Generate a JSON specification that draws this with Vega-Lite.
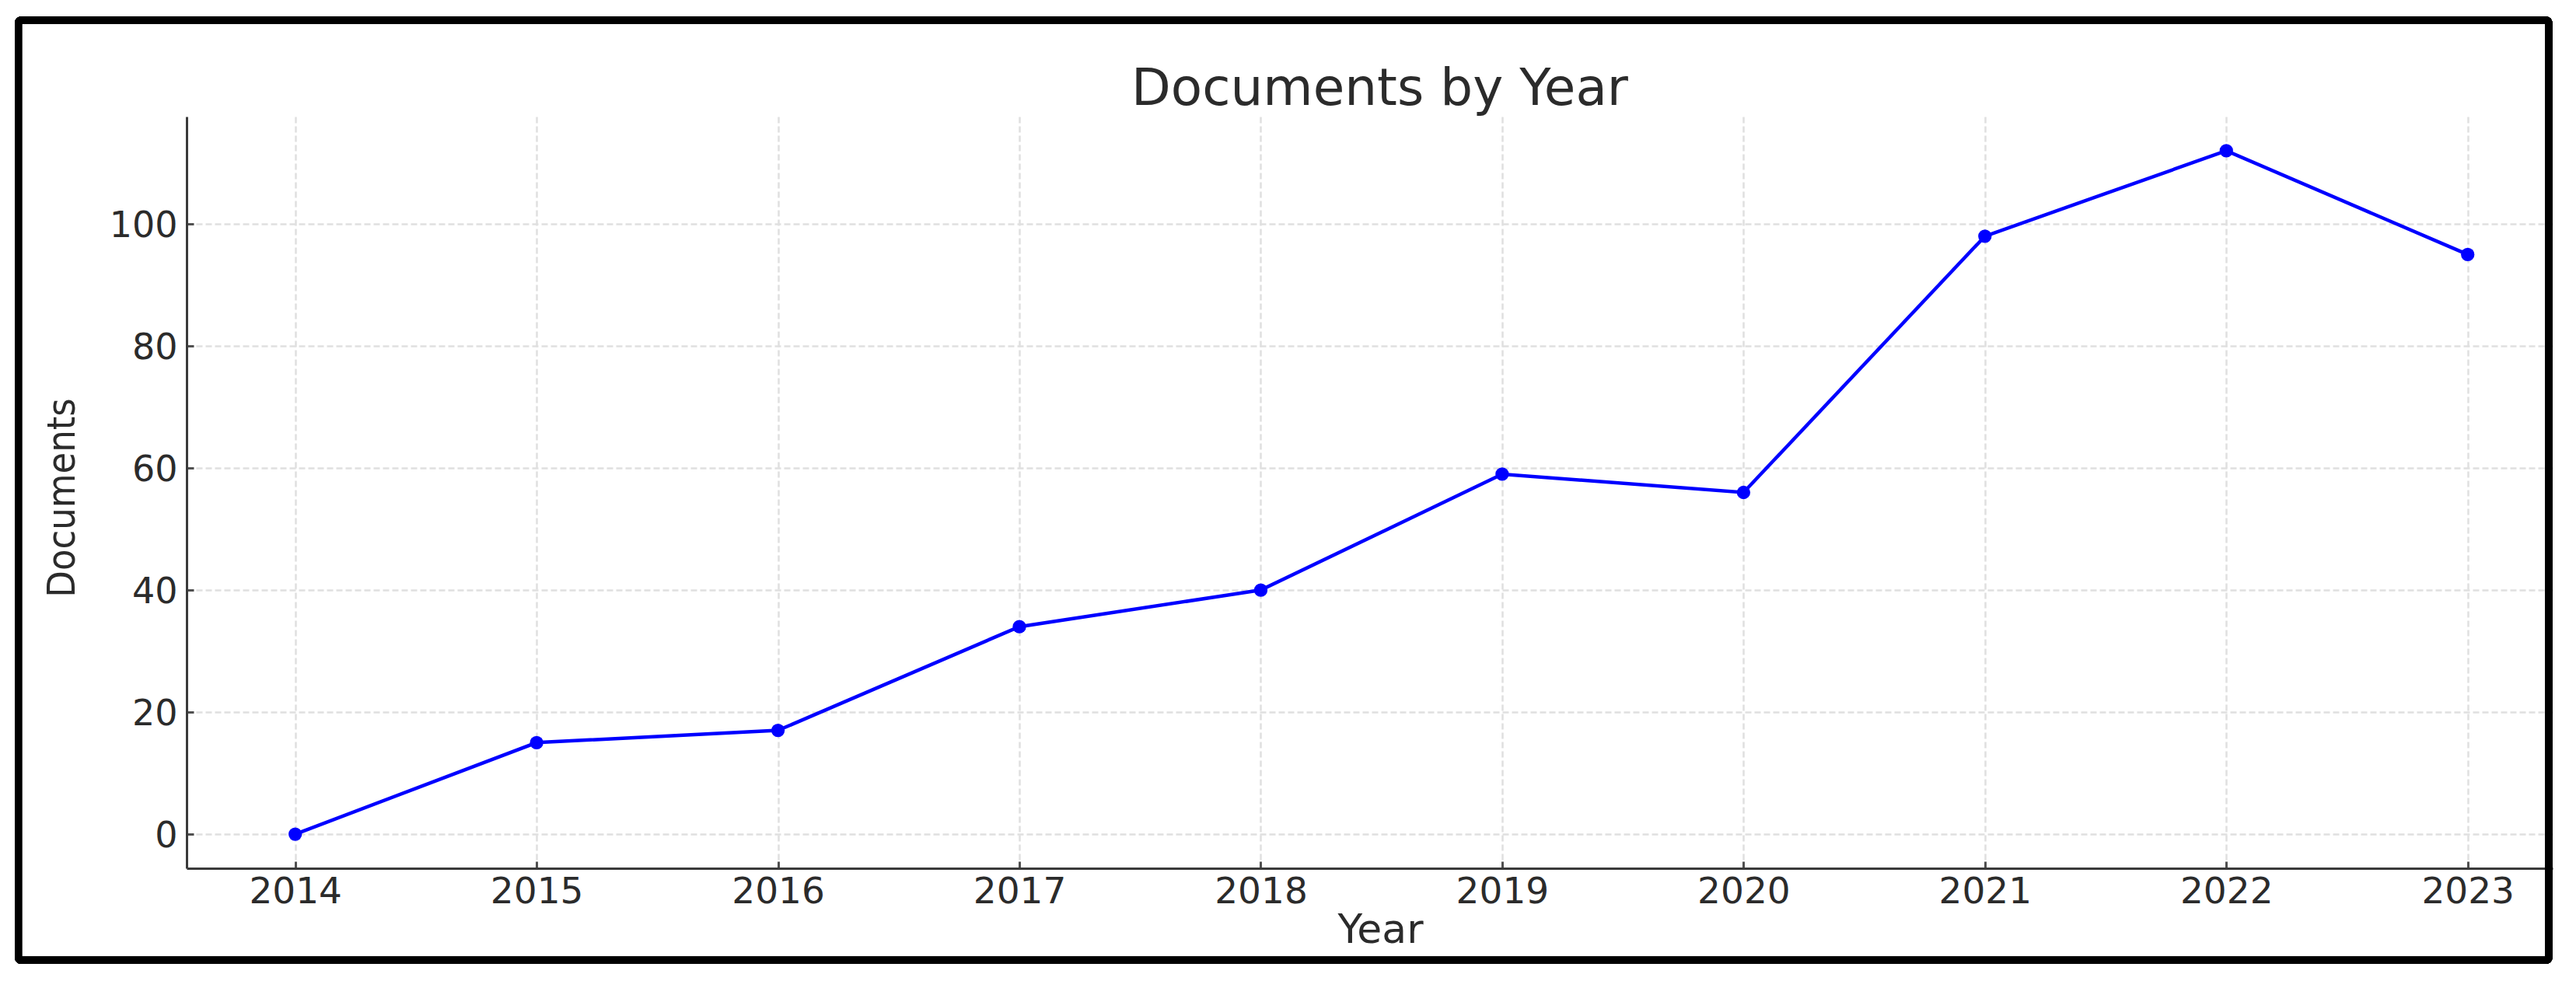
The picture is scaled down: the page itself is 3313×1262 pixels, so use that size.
{
  "$schema": "https://vega.github.io/schema/vega-lite/v6.json",
  "width": 3043,
  "height": 967,
  "autosize": {"type": "none"},
  "padding": {"left": 240, "top": 150, "right": 30, "bottom": 145},
  "background": "white",
  "title": {
    "text": "Documents by Year",
    "frame": "group",
    "anchor": "middle",
    "baseline": "alphabetic",
    "offset": 13,
    "dx": 13,
    "dy": 193,
    "font": "DejaVu Sans",
    "fontSize": 66,
    "fontWeight": "normal",
    "color": "#2b2b2b"
  },
  "config": {
    "view": {"stroke": null},
    "axis": {
      "labelFont": "DejaVu Sans",
      "labelColor": "#2b2b2b",
      "titleColor": "#2b2b2b",
      "titleFontWeight": "normal",
      "domainColor": "#3a3a3a",
      "domainWidth": 3,
      "tickColor": "#505050",
      "tickWidth": 3,
      "tickSize": -9,
      "gridColor": "#e0e0e0",
      "gridDash": [8, 4],
      "gridWidth": 2.5
    }
  },
  "data": {
    "values": [
      {"Year": 2014, "Documents": 0},
      {"Year": 2015, "Documents": 15},
      {"Year": 2016, "Documents": 17},
      {"Year": 2017, "Documents": 34},
      {"Year": 2018, "Documents": 40},
      {"Year": 2019, "Documents": 59},
      {"Year": 2020, "Documents": 56},
      {"Year": 2021, "Documents": 98},
      {"Year": 2022, "Documents": 112},
      {"Year": 2023, "Documents": 95}
    ]
  },
  "layer": [
    {
      "mark": {
        "type": "line",
        "color": "#0000ff",
        "strokeWidth": 4.5,
        "point": {"filled": true, "size": 300, "color": "#0000ff", "opacity": 1}
      },
      "encoding": {
        "x": {
          "field": "Year",
          "type": "quantitative",
          "scale": {"domain": [2013.55, 2023.352], "nice": false, "zero": false},
          "axis": {
            "values": [2014, 2015, 2016, 2017, 2018, 2019, 2020, 2021, 2022, 2023],
            "format": "d",
            "grid": true,
            "labelFontSize": 47,
            "labelPadding": 16,
            "labelFlush": false,
            "labelOverlap": false,
            "title": "Year",
            "titleFont": "DejaVu Sans",
            "titleFontSize": 52,
            "titleX": 1535,
            "titleY": 95,
            "titleBaseline": "alphabetic",
            "titleAlign": "center"
          }
        },
        "y": {
          "field": "Documents",
          "type": "quantitative",
          "scale": {"domain": [-5.6, 117.6], "nice": false, "zero": false},
          "axis": {
            "values": [0, 20, 40, 60, 80, 100],
            "grid": true,
            "labelFontSize": 46,
            "labelPadding": 21,
            "labelOffset": 2,
            "labelFlush": false,
            "title": "Documents",
            "titleFont": "DejaVu Sans Condensed, DejaVu Sans",
            "titleFontSize": 50,
            "titleAngle": 270,
            "titleX": -160,
            "titleY": 490,
            "titleBaseline": "middle",
            "titleAlign": "center"
          }
        }
      }
    },
    {
      "mark": {"type": "rect", "filled": false, "stroke": "#000000", "strokeWidth": 9, "cornerRadius": 3},
      "encoding": {
        "x": {"datum": 2012.853, "type": "quantitative"},
        "x2": {"datum": 2023.336},
        "y": {"datum": 133.4, "type": "quantitative"},
        "y2": {"datum": -20.66}
      }
    }
  ]
}
